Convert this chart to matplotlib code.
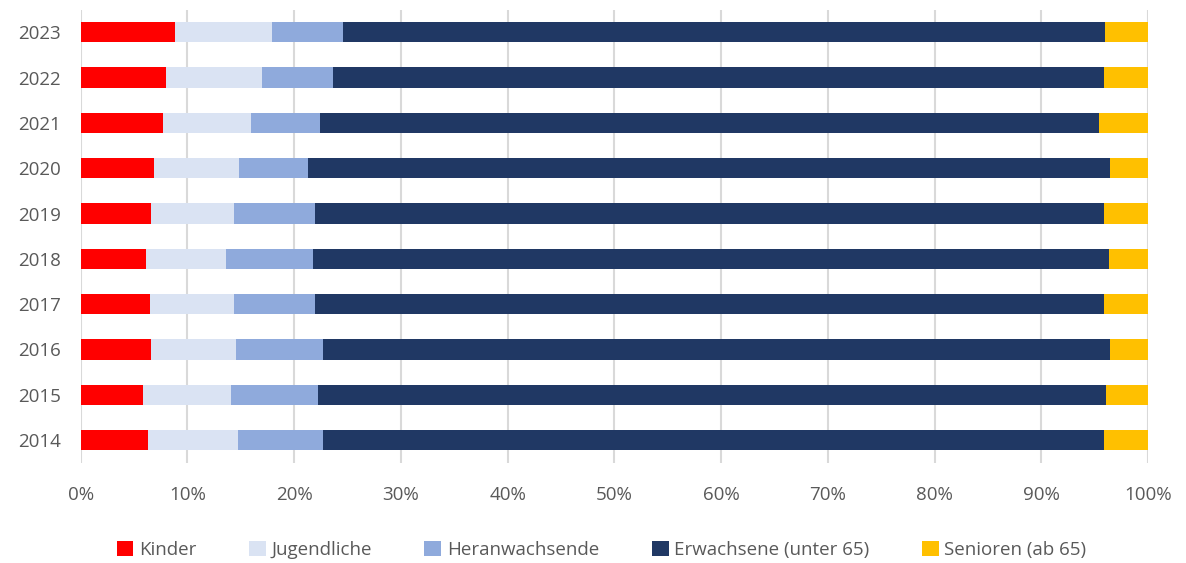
import matplotlib
matplotlib.use("Agg")
from matplotlib import pyplot as plt
import numpy as np

years = ["2014", "2015", "2016", "2017", "2018", "2019", "2020", "2021", "2022", "2023"]
kinder = [6.3, 5.8, 6.6, 6.5, 6.1, 6.6, 6.9, 7.7, 8.0, 8.8]
jugendliche = [8.4, 8.3, 8.0, 7.9, 7.5, 7.8, 7.9, 8.3, 9.0, 9.1]
heranwachsende = [8.0, 8.1, 8.1, 7.6, 8.2, 7.6, 6.5, 6.4, 6.6, 6.7]
erwachsene = [73.2, 73.9, 73.7, 73.9, 74.5, 73.9, 75.1, 73.0, 72.3, 71.4]
senioren = [4.1, 3.9, 3.6, 4.1, 3.7, 4.1, 3.6, 4.6, 4.1, 4.0]

series = [kinder, jugendliche, heranwachsende, erwachsene, senioren]
labels = ["Kinder", "Jugendliche", "Heranwachsende", "Erwachsene (unter 65)", "Senioren (ab 65)"]
colors = ["#ff0000", "#dae3f3", "#8faadc", "#203864", "#ffc000"]

plt.rcParams['font.family'] = ['Open Sans', 'DejaVu Sans']

fig = plt.figure(figsize=(11.86, 5.63), dpi=100)
ax = fig.add_axes([0.068, 0.178, 0.9, 0.805])

y = np.arange(len(years))
data = np.array(series)
shares = data / data.sum(axis=0) * 100
left = np.zeros(len(years))
for vals, lab, col in zip(shares, labels, colors):
    ax.barh(y, vals, left=left, height=0.45, color=col, label=lab, zorder=3)
    left += vals

ax.set_xlim(0, 100)
ax.set_ylim(-0.5, len(years) - 0.5)
ax.set_yticks(y)
ax.set_yticklabels(years)
ax.set_xticks(np.arange(0, 101, 10))
ax.set_xticklabels([f"{v}%" for v in range(0, 101, 10)])
ax.tick_params(axis='both', length=0, labelsize=13.5, colors="#595959")
ax.tick_params(axis='x', pad=17)
ax.tick_params(axis='y', pad=14)
ax.grid(axis='x', color="#d9d9d9", linewidth=1.5, zorder=0)
for s in ax.spines.values():
    s.set_visible(False)

ax.legend(loc="upper center", bbox_to_anchor=(0.488, -0.135), ncol=5, frameon=False,
          fontsize=13.5, labelcolor="#595959", handlelength=0.9, handleheight=0.9,
          handletextpad=0.3, columnspacing=2.8)

fig.savefig("out.png", dpi=100)
